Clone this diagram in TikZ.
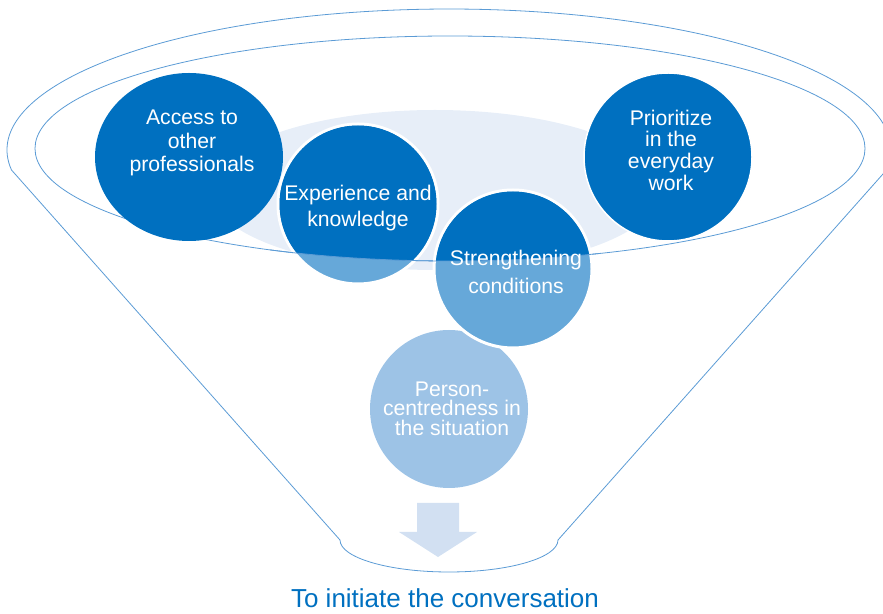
\documentclass[tikz,border=0pt]{standalone}
\usepackage{fontspec}
\setmainfont{Liberation Sans}
\usepackage{xcolor}
\usetikzlibrary{shapes.geometric}
\definecolor{funneldark}{HTML}{0070C0}
\definecolor{funnelmid}{HTML}{66A8D9}
\definecolor{funnellight}{HTML}{9DC3E6}
\definecolor{funnelhaze}{HTML}{E7EEF8}
\definecolor{funnelarrow}{HTML}{D2E0F2}
\definecolor{funnelline}{HTML}{5B9BD5}
\tikzset{
  every node/.style = {font = \fontsize{21.2}{23.5}\selectfont}
}
\tikzset{
  rim/.style = {draw=funnelline, line width=0.8pt},
  bubble/.style = {circle, inner sep=0pt, outer sep=0pt},
  bubbletext/.style = {text=white, align=center, inner sep=0pt}
}
\begin{document}
\begin{tikzpicture}[x=1pt,y=1pt]
\useasboundingbox (0,0) rectangle (883,613);
\clip (0,0) rectangle (883,613);

\def\rx{415}
\def\ry{112.5}

\coordinate (M) at (450,464.5);
\coordinate (L) at (11.5,443);
\coordinate (P) at (340,73);
\coordinate (Q) at (558,73);

% Location of points
% L  ....  M  ....  (right rim, off the page)
%      P        Q

% The haze inside the rim
\fill[funnelhaze] (435,423) ellipse [x radius=225, y radius=80];

% The funnel
\draw[rim] (P) -- (L) arc[start angle=188.15, end angle=-8.15, x radius=442, y radius=141]
  -- (Q) arc[start angle=0, end angle=-180, x radius=109, y radius=32] -- cycle;
\draw[rim] (M) ellipse [x radius=\rx, y radius=\ry];

% The arrow
\fill[funnelarrow] (417,110) -- (459,110) -- (459,81) -- (477,81) -- (438,56)
  -- (399,81) -- (417,81) -- cycle;

% The bubbles
\node[bubble, fill=funnellight, minimum size=158pt] (pers) at (449,204) {};
\node[bubble, ellipse, fill=funneldark, minimum width=188pt, minimum height=168pt] (acc) at (189,456) {};
\node[bubble, fill=funnelmid, draw=white, line width=3pt, minimum size=160pt] (exp) at (358,409) {};
\node[bubble, fill=funnelmid, draw=white, line width=3pt, minimum size=158pt] (str) at (513,344) {};
\begin{scope}
  \clip (M) ellipse [x radius=\rx, y radius=\ry];
  \fill[funneldark] (exp.center) circle[radius=78.5];
  \fill[funneldark] (str.center) circle[radius=77.5];
\end{scope}
\node[bubble, fill=funneldark, draw=white, line width=1.5pt, minimum size=168pt] (prio) at (668,456) {};

% rim again, over the two bubbles
\begin{scope}
  \clip (270,330) rectangle (600,380);
  \draw[rim] (M) ellipse [x radius=\rx, y radius=\ry];
\end{scope}

% The texts
\node[bubbletext] (acctext) at (192,470) {Access to\\other\\professionals};
\node[bubbletext, font=\fontsize{21.2}{26}\selectfont] (exptext) at (358,404.5) {Experience and\\knowledge};
\node[bubbletext, font=\fontsize{21.2}{21.7}\selectfont] (priotext) at (671,463) {Prioritize\\in the\\everyday\\work};
\node[bubbletext, font=\fontsize{21.2}{28}\selectfont] (strtext) at (516,341.5) {Strengthening\\conditions};
\node[bubbletext, font=\fontsize{21.2}{19.5}\selectfont] (perstext) at (452,204.5) {Person-\\centredness in\\the situation};
\node[text=funneldark, font=\fontsize{26}{30}\selectfont, anchor=base, inner sep=0pt] (goal) at (445,5.5) {To initiate the conversation};
\end{tikzpicture}
\end{document}
